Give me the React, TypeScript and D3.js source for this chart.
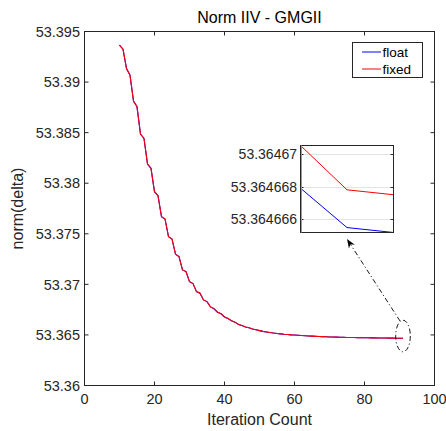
import React from "react";
import * as d3 from "d3";

// ---------- data ----------
const iterations = d3.range(10, 92); // 10 .. 91
// shared values for iterations 10..88 (float & fixed are identical at this scale)
const sharedNorm = [
  53.393647, 53.393252, 53.391346, 53.390684, 53.388117, 53.387554, 53.384858, 53.384433,
  53.381895, 53.38147, 53.37916, 53.378765, 53.376691, 53.376464, 53.374716, 53.374488,
  53.372977, 53.37274, 53.371427, 53.371259, 53.370272, 53.370074, 53.369284, 53.369126,
  53.368464, 53.368297, 53.367766, 53.367588, 53.367242, 53.367094, 53.366778, 53.366629,
  53.366402, 53.366264, 53.366037, 53.365938, 53.36579, 53.365701, 53.365592, 53.365513,
  53.365424, 53.365355, 53.365296, 53.365236, 53.365187, 53.365147, 53.365108, 53.365068,
  53.365039, 53.365009, 53.364989, 53.364965, 53.36494, 53.36492, 53.3649, 53.364881,
  53.364861, 53.364846, 53.364831, 53.364817, 53.364802, 53.364792, 53.364782, 53.364772,
  53.364762, 53.364752, 53.364746, 53.36474, 53.364734, 53.364729, 53.364723, 53.364718,
  53.364713, 53.364708, 53.364703, 53.364698, 53.364693, 53.364688, 53.364683,
];
// iterations 89..91
const floatTail = [53.3646679, 53.3646655, 53.3646652];
const fixedTail = [53.3646705, 53.3646678, 53.3646675];
const floatNorm = sharedNorm.concat(floatTail);
const fixedNorm = sharedNorm.concat(fixedTail);

const xTicks = [0, 20, 40, 60, 80, 100];
const yTicks = [53.36, 53.365, 53.37, 53.375, 53.38, 53.385, 53.39, 53.395];
const yTickLabels = ["53.36", "53.365", "53.37", "53.375", "53.38", "53.385", "53.39", "53.395"];
const insetIters = [89, 90, 91];
const insetTicks = [53.364666, 53.364668, 53.36467];
const insetTickLabels = ["53.364666", "53.364668", "53.36467"];
const seriesNames = ["float", "fixed"];
const seriesColors = ["#0000ff", "#ff0000"];

const FONT = "'Liberation Sans', Arial, Helvetica, sans-serif";
const AX = "#262626";

export default function App() {
  const W = 446, H = 431;
  const x = d3.scaleLinear().domain([0, 100]).range([84.5, 434.5]);
  const y = d3.scaleLinear().domain([53.36, 53.395]).range([385.5, 31.5]);

  const pts = (vals: number[]) => iterations.map((it, i) => [it, vals[i]] as [number, number]);
  const line = d3.line<[number, number]>().x(d => x(d[0])).y(d => y(d[1]));

  // inset
  const ix = d3.scaleLinear().domain([89, 91]).range([300.5, 393.5]);
  const iy = d3.scaleLinear().domain([53.3646652, 53.3646705]).range([232.5, 145.5]);
  const insetPts = (vals: number[]) =>
    insetIters.map(it => [it, vals[iterations.indexOf(it)]] as [number, number]);
  const iline = d3.line<[number, number]>().x(d => ix(d[0])).y(d => iy(d[1]));

  const series = [floatNorm, fixedNorm];
  const tk = 4;

  // annotation arrow
  const ax0 = 400, ay0 = 321;
  const ax1 = ix(90), ay1 = 239;
  const ang = Math.atan2(ay1 - ay0, ax1 - ax0);
  const hl = 9, hw = 3.5;
  const bx = ax1 - hl * Math.cos(ang), by = ay1 - hl * Math.sin(ang);
  const nx = ax1 - hl * 0.7 * Math.cos(ang), ny = ay1 - hl * 0.7 * Math.sin(ang);
  const px = -Math.sin(ang), py = Math.cos(ang);
  const head = `M${ax1},${ay1} L${bx + px * hw},${by + py * hw} L${nx},${ny} L${bx - px * hw},${by - py * hw} Z`;

  return (
    <svg width={W} height={H} style={{ position: "absolute", left: 0, top: 0, background: "#fff" }}
      fontFamily={FONT}>
      <rect x={0} y={0} width={W} height={H} fill="#fff" />
      {/* data lines */}
      <g fill="none" strokeWidth={1.1}>
        {series.map((s, i) => (
          <path key={i} d={line(pts(s)) || ""} stroke={seriesColors[i]} />
        ))}
      </g>
      {/* axes box */}
      <rect x={x(0)} y={y(53.395)} width={x(100) - x(0)} height={y(53.36) - y(53.395)}
        fill="none" stroke={AX} strokeWidth={1} />
      {xTicks.map(t => (
        <g key={"x" + t}>
          <line x1={x(t)} x2={x(t)} y1={y(53.36)} y2={y(53.36) - tk} stroke={AX} />
          <line x1={x(t)} x2={x(t)} y1={y(53.395)} y2={y(53.395) + tk} stroke={AX} />
          <text x={x(t)} y={404} textAnchor="middle" fontSize={14.5} fill={AX}>{t}</text>
        </g>
      ))}
      {yTicks.map((t, i) => (
        <g key={"y" + t}>
          <line x1={x(0)} x2={x(0) + tk} y1={y(t)} y2={y(t)} stroke={AX} />
          <line x1={x(100)} x2={x(100) - tk} y1={y(t)} y2={y(t)} stroke={AX} />
          <text x={80} y={y(t)} dy="0.36em" textAnchor="end" fontSize={14.5} fill={AX}>{yTickLabels[i]}</text>
        </g>
      ))}
      <text x={(x(0) + x(100)) / 2} y={22.5} textAnchor="middle" fontSize={16} fill="#000">Norm IIV - GMGII</text>
      <text x={(x(0) + x(100)) / 2} y={425} textAnchor="middle" fontSize={16} fill={AX}>Iteration Count</text>
      <text transform={`translate(23,${(y(53.36) + y(53.395)) / 2}) rotate(-90)`} textAnchor="middle"
        fontSize={16} fill={AX}>norm(delta)</text>

      {/* legend */}
      <rect x={352.5} y={42.5} width={70} height={35} fill="#fff" stroke={AX} strokeWidth={1} />
      {seriesNames.map((n, i) => (
        <g key={n}>
          <line x1={362} x2={381} y1={52 + i * 17} y2={52 + i * 17} stroke={seriesColors[i]} strokeWidth={1} />
          <text x={382.5} y={52 + i * 17} dy="0.36em" fontSize={13.5} fill="#000">{n}</text>
        </g>
      ))}

      {/* inset */}
      <rect x={ix(89)} y={iy(53.3646705)} width={ix(91) - ix(89)} height={iy(53.3646652) - iy(53.3646705)}
        fill="#fff" />
      {insetTicks.map((t, i) => (
        <g key={"it" + i}>
          <line x1={ix(89)} x2={ix(91)} y1={Math.round(iy(t)) + 0.5} y2={Math.round(iy(t)) + 0.5} stroke="#e3e3e3" />
          <line x1={ix(89)} x2={ix(89) + 3} y1={Math.round(iy(t)) + 0.5} y2={Math.round(iy(t)) + 0.5} stroke={AX} />
          <line x1={ix(91)} x2={ix(91) - 3} y1={Math.round(iy(t)) + 0.5} y2={Math.round(iy(t)) + 0.5} stroke={AX} />
          <text x={297} y={iy(t)} dy="0.36em" textAnchor="end" fontSize={14} fill={AX}>{insetTickLabels[i]}</text>
        </g>
      ))}
      <g fill="none" strokeWidth={1}>
        {series.map((s, i) => (
          <path key={i} d={iline(insetPts(s)) || ""} stroke={seriesColors[i]} />
        ))}
      </g>
      <rect x={ix(89)} y={iy(53.3646705)} width={ix(91) - ix(89)} height={iy(53.3646652) - iy(53.3646705)}
        fill="none" stroke={AX} strokeWidth={1} />
      <line x1={ix(89) + 1} x2={ix(89) + 1} y1={iy(53.3646705)} y2={iy(53.3646652)} stroke="#9a9a9a" strokeWidth={1} />

      {/* annotation */}
      <path d={`M${ax0},${ay0} L${nx},${ny}`} stroke="#000" strokeWidth={0.9} strokeDasharray="5,2.5,1.2,2.5" fill="none" />
      <path d={head} fill="#000" />
      <ellipse cx={x(91)} cy={336} rx={7.3} ry={15.8} fill="none" stroke="#000" strokeWidth={0.9}
        strokeDasharray="5,2.5,1.2,2.5" />
    </svg>
  );
}
